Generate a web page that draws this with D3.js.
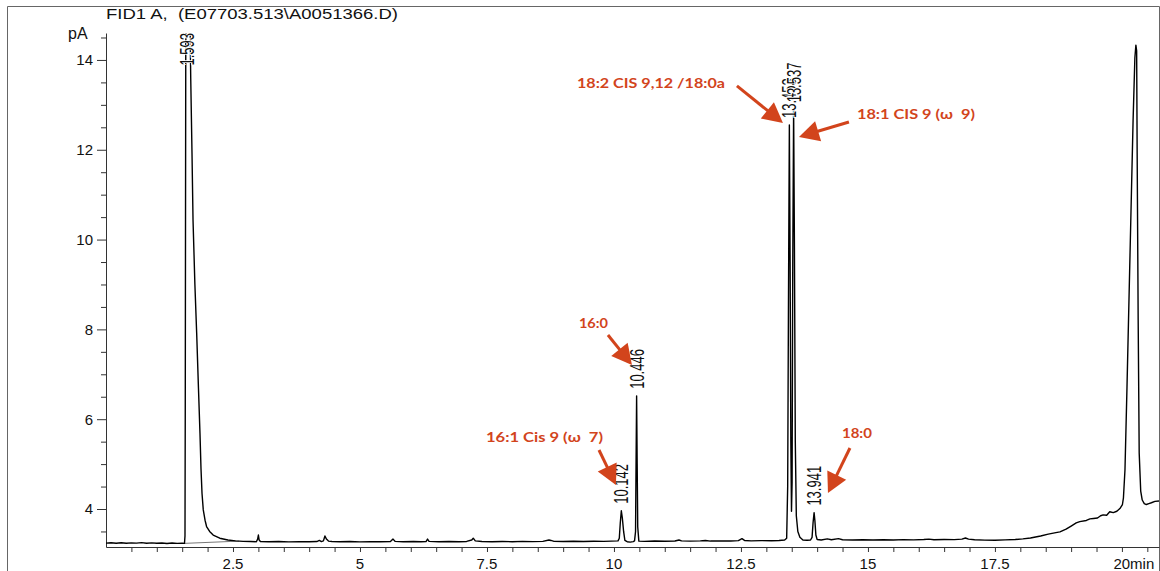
<!DOCTYPE html>
<html>
<head>
<meta charset="utf-8">
<script src="https://cdn.jsdelivr.net/npm/d3@7"></script>
<style>
html, body { margin: 0; padding: 0; background: #fff; overflow: hidden; }
</style>
</head>
<body>
<div id="chart"></div>
<script>
// FID trace: [retention time (min), signal (pA)]
var trace = [
 [0.00,3.240],[0.10,3.248],[0.20,3.238],[0.30,3.250],[0.40,3.236],[0.50,3.246],[0.60,3.240],[0.70,3.252],
 [0.80,3.238],[0.90,3.245],[1.00,3.236],[1.10,3.244],[1.20,3.232],[1.30,3.242],[1.40,3.234],[1.50,3.238],[1.545,3.235],
 [1.555,3.40],[1.560,6.0],[1.565,10.0],[1.570,14.0],[1.578,16.5],[1.600,17.5],[1.630,16.8],[1.655,14.8],
 [1.668,13.60],[1.693,11.93],[1.713,10.44],[1.750,9.00],[1.785,7.92],[1.820,6.70],[1.850,5.69],[1.870,4.90],
 [1.890,4.35],[1.915,3.98],[1.950,3.75],[1.980,3.61],[2.040,3.50],[2.110,3.42],[2.240,3.35],[2.400,3.31],
 [2.550,3.29],[2.700,3.280],[2.850,3.275],[2.960,3.272],[2.985,3.33],[3.000,3.42],[3.015,3.31],[3.040,3.278],
 [3.20,3.270],[3.40,3.275],[3.60,3.268],[3.80,3.274],[4.00,3.270],[4.15,3.276],[4.20,3.30],[4.24,3.275],
 [4.28,3.29],[4.31,3.40],[4.34,3.33],[4.38,3.285],[4.45,3.276],[4.60,3.270],[4.80,3.276],[5.00,3.268],
 [5.20,3.274],[5.40,3.270],[5.60,3.276],[5.65,3.33],[5.69,3.28],[5.85,3.272],[6.05,3.276],[6.20,3.270],
 [6.30,3.276],[6.33,3.33],[6.36,3.28],[6.55,3.272],[6.75,3.277],[6.95,3.270],[7.10,3.278],[7.20,3.31],
 [7.23,3.35],[7.27,3.29],[7.40,3.276],[7.60,3.272],[7.80,3.278],[8.00,3.272],[8.20,3.279],[8.40,3.274],
 [8.60,3.280],[8.72,3.31],[8.76,3.30],[8.82,3.28],[9.00,3.276],[9.20,3.282],[9.40,3.278],[9.60,3.283],
 [9.80,3.279],[9.95,3.284],[10.08,3.290],[10.105,3.35],[10.125,3.70],[10.145,3.96],[10.165,3.80],[10.19,3.50],
 [10.215,3.30],[10.26,3.272],[10.32,3.262],[10.38,3.275],[10.405,3.29],[10.425,3.50],[10.435,5.00],[10.446,6.52],
 [10.457,5.00],[10.468,3.60],[10.49,3.285],[10.60,3.280],[10.80,3.286],[11.00,3.282],[11.20,3.288],[11.28,3.31],
 [11.33,3.29],[11.50,3.284],[11.70,3.290],[11.80,3.30],[11.90,3.286],[12.10,3.290],[12.30,3.286],[12.45,3.295],
 [12.52,3.34],[12.57,3.30],[12.70,3.290],[12.90,3.296],[13.10,3.292],[13.25,3.300],[13.36,3.31],[13.40,3.35],
 [13.42,4.5],[13.435,8.5],[13.453,12.55],[13.468,9.5],[13.482,5.5],[13.495,3.95],[13.507,4.6],[13.52,9.5],
 [13.537,12.90],[13.553,9.8],[13.57,5.5],[13.59,3.85],[13.62,3.50],[13.66,3.37],[13.72,3.31],[13.80,3.305],
 [13.87,3.31],[13.90,3.37],[13.92,3.70],[13.94,3.92],[13.955,3.75],[13.975,3.42],[14.00,3.32],[14.08,3.31],
 [14.20,3.335],[14.28,3.315],[14.42,3.34],[14.50,3.315],[14.70,3.310],[14.90,3.316],[15.10,3.310],[15.30,3.317],
 [15.50,3.311],[15.70,3.318],[15.90,3.312],[16.10,3.320],[16.20,3.33],[16.30,3.316],[16.50,3.322],[16.70,3.318],
 [16.85,3.33],[16.92,3.355],[16.98,3.33],[17.10,3.316],[17.30,3.308],[17.50,3.305],[17.70,3.312],[17.90,3.320],
 [18.05,3.335],[18.20,3.355],[18.40,3.40],[18.55,3.44],[18.70,3.475],[18.78,3.49],[18.90,3.55],[19.00,3.62],
 [19.10,3.69],[19.17,3.72],[19.30,3.745],[19.37,3.78],[19.44,3.79],[19.52,3.80],[19.58,3.85],[19.63,3.87],
 [19.70,3.86],[19.76,3.94],[19.83,3.92],[19.90,3.95],[19.96,4.01],[20.01,4.10],[20.03,4.25],[20.06,4.87],
 [20.10,6.72],[20.16,9.70],[20.22,12.66],[20.255,14.05],[20.275,14.33],[20.29,14.20],[20.30,11.93],[20.32,8.21],
 [20.34,5.25],[20.37,4.40],[20.40,4.20],[20.44,4.12],[20.48,4.10],[20.53,4.12],[20.58,4.14],[20.65,4.17],[20.73,4.18]
];

// integration baseline under the solvent peak
var solventBase = [[1.545, 3.235], [2.62, 3.285]];

// integrated peaks (solvent peak is off scale)
var peakRt = [1.593, 10.142, 10.446, 13.453, 13.537, 13.941];
var peakPA = [17.5, 3.96, 6.52, 12.55, 12.90, 3.92];
var peakLabels = ["1.593", "10.142", "10.446", "13.453", "13.537", "13.941"];

// axis ticks
var xTicks = [2.5, 5, 7.5, 10, 12.5, 15, 17.5, 20];
var yTicks = [4, 6, 8, 10, 12, 14];

// fatty acid annotations (min, pA)
var fameNames = ["18:2 CIS 9,12 /18:0a", "18:1 CIS 9 (\u03c9\u00a0 9)", "16:0", "16:1 Cis 9 (\u03c9\u00a0 7)", "18:0"];
var fameTextAt = [[9.272, 13.376], [14.783, 12.686], [9.311, 8.031], [7.480, 5.492], [14.488, 5.581]];
var fameFrom = [[12.421, 13.421], [14.626, 12.619], [9.882, 7.875], [9.705, 5.314], [14.646, 5.359]];
var fameTo = [[13.327, 12.597], [13.642, 12.285], [10.354, 7.207], [10.039, 4.535], [14.213, 4.356]];
var fameWidth = [148, 118, 29, 117, 30];

var W = 1160, H = 571;
var plotL = 106, plotR = 1159, plotT = 33, plotB = 547;

var svg = d3.select('#chart').append('svg')
    .attr('width', W)
    .attr('height', H)
    .style('display', 'block');

var x = d3.scaleLinear().domain([0, 20.73]).range([plotL, plotR]);
var y = d3.scaleLinear().domain([3.154, 14.6]).range([plotB, plotT]);

// outer frame
svg.append('path')
    .attr('d', 'M7.5,' + H + 'V6.5H1159.5V' + H)
    .attr('fill', 'none')
    .attr('stroke', '#666')
    .attr('stroke-width', 1);

svg.append('text')
    .attr('x', 106)
    .attr('y', 19)
    .attr('font-family', 'Liberation Sans, Arial, sans-serif')
    .attr('font-size', 14)
    .attr('textLength', 292)
    .attr('lengthAdjust', 'spacingAndGlyphs')
    .attr('fill', '#111')
    .style('white-space', 'pre')
    .text('FID1 A,  (E07703.513\\A0051366.D)');

// y axis
var yAxis = svg.append('g')
    .attr('transform', 'translate(' + plotL + ',0)')
    .call(d3.axisLeft(y)
        .tickValues(d3.range(3.5, 14.51, 0.5))
        .tickSizeOuter(0)
        .tickFormat(''));
yAxis.selectAll('.tick line')
    .attr('x2', function (d) { return yTicks.indexOf(d) >= 0 ? -9 : -5; });
yAxis.selectAll('path, line').attr('stroke', '#333');

svg.append('g').selectAll('text')
    .data(yTicks)
    .enter().append('text')
    .attr('x', 93)
    .attr('y', function (d) { return y(d); })
    .attr('dy', '0.36em')
    .attr('text-anchor', 'end')
    .attr('font-family', 'Liberation Sans, Arial, sans-serif')
    .attr('font-size', 15)
    .attr('fill', '#111')
    .text(function (d) { return d; });

svg.append('text')
    .attr('x', 68)
    .attr('y', 39)
    .attr('font-family', 'Liberation Sans, Arial, sans-serif')
    .attr('font-size', 16)
    .attr('fill', '#111')
    .text('pA');

// x axis
var xAxis = svg.append('g')
    .attr('transform', 'translate(0,' + plotB + ')')
    .call(d3.axisBottom(x)
        .tickValues(d3.range(0.5, 20.51, 0.5))
        .tickSize(5)
        .tickSizeOuter(0)
        .tickFormat(''));
xAxis.selectAll('path, line').attr('stroke', '#333');

svg.append('g').selectAll('text')
    .data(xTicks)
    .enter().append('text')
    .attr('x', function (d) { return d === 20 ? x(d) - 8.5 : x(d); })
    .attr('y', 569)
    .attr('text-anchor', function (d) { return d === 20 ? 'start' : 'middle'; })
    .attr('font-family', 'Liberation Sans, Arial, sans-serif')
    .attr('font-size', 15)
    .attr('fill', '#111')
    .text(function (d) { return d === 20 ? '20min' : d; });

// trace
svg.append('clipPath').attr('id', 'plot')
    .append('rect')
    .attr('x', plotL)
    .attr('y', plotT)
    .attr('width', plotR - plotL)
    .attr('height', plotB - plotT);

var line = d3.line()
    .x(function (d) { return x(d[0]); })
    .y(function (d) { return y(d[1]); });

svg.append('path')
    .datum(solventBase)
    .attr('clip-path', 'url(#plot)')
    .attr('d', line)
    .attr('fill', 'none')
    .attr('stroke', '#777')
    .attr('stroke-width', 1);

svg.append('path')
    .datum(trace)
    .attr('clip-path', 'url(#plot)')
    .attr('d', line)
    .attr('fill', 'none')
    .attr('stroke', '#000')
    .attr('stroke-width', 1.4)
    .attr('stroke-linejoin', 'round');

// peak retention time labels, rotated
var labels = svg.append('g').selectAll('text')
    .data(peakLabels)
    .enter().append('text')
    .attr('font-family', 'Liberation Sans, Arial, sans-serif')
    .attr('font-size', 13)
    .attr('fill', '#111')
    .attr('stroke', '#fff')
    .attr('stroke-width', 1.5)
    .attr('paint-order', 'stroke')
    .attr('dy', '0.36em')
    .text(function (d) { return d; });

labels.attr('transform', function (d, i) {
    var len = this.getComputedTextLength();
    var by = Math.max(y(peakPA[i]) - 7, plotT + len);
    return 'translate(' + x(peakRt[i]) + ',' + by + ') scale(1.5,1) rotate(-90)';
});

// annotations
var red = '#d2441c';
var anno = svg.append('g');

anno.selectAll('text')
    .data(fameNames)
    .enter().append('text')
    .attr('x', function (d, i) { return x(fameTextAt[i][0]); })
    .attr('y', function (d, i) { return y(fameTextAt[i][1]); })
    .attr('font-family', 'Lato, Open Sans, sans-serif')
    .attr('font-weight', 'bold')
    .attr('font-size', 13)
    .attr('textLength', function (d, i) { return fameWidth[i]; })
    .attr('lengthAdjust', 'spacingAndGlyphs')
    .attr('fill', red)
    .text(function (d) { return d; });

fameNames.forEach(function (d, i) {
    var x0 = x(fameFrom[i][0]), y0 = y(fameFrom[i][1]);
    var x1 = x(fameTo[i][0]), y1 = y(fameTo[i][1]);
    var dx = x1 - x0, dy = y1 - y0, L = Math.sqrt(dx * dx + dy * dy);
    var ux = dx / L, uy = dy / L;
    var hl = 20, hw = 10.5;
    var bx = x1 - ux * hl, by = y1 - uy * hl;
    anno.append('line')
        .attr('x1', x0).attr('y1', y0)
        .attr('x2', bx + ux * 2).attr('y2', by + uy * 2)
        .attr('stroke', red)
        .attr('stroke-width', 3);
    anno.append('path')
        .attr('d', 'M' + x1 + ',' + y1 +
            'L' + (bx - uy * hw) + ',' + (by + ux * hw) +
            'L' + (bx + uy * hw) + ',' + (by - ux * hw) + 'Z')
        .attr('fill', red);
});
</script>
</body>
</html>
